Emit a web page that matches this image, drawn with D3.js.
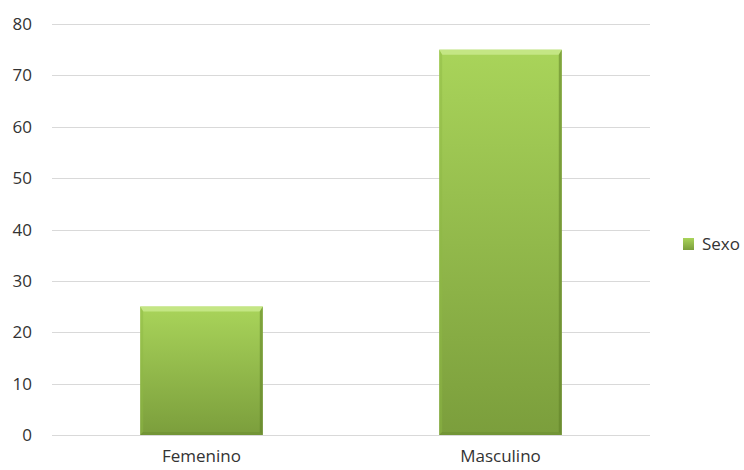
<!DOCTYPE html>
<html><head><meta charset="utf-8">
<script src="https://cdn.jsdelivr.net/npm/d3@7"></script>
<style>body{margin:0;background:#fff}svg{display:block}text{font-family:"Open Sans","Noto Sans",sans-serif;fill:#333}</style>
</head><body><svg id="c" width="744" height="470"></svg>
<script>
const categories = ["Femenino", "Masculino"];
const values = [25, 75];
const seriesName = "Sexo";
const yTicks = [0, 10, 20, 30, 40, 50, 60, 70, 80];

const svg = d3.select("#c");
const m = {l: 52, r: 94, t: 24, b: 35};
const W = 744, H = 470;
const x = d3.scaleBand().domain(categories).range([m.l, W - m.r]).paddingInner(0.59).paddingOuter(0.295);
const y = d3.scaleLinear().domain([0, 80]).range([H - m.b, m.t]);

const defs = svg.append("defs");
const g1 = defs.append("linearGradient").attr("id", "bg").attr("x1", 0).attr("y1", 0).attr("x2", 0).attr("y2", 1);
g1.append("stop").attr("offset", "0%").attr("stop-color", "#a9d45a");
g1.append("stop").attr("offset", "100%").attr("stop-color", "#7b9e3c");

// gridlines
svg.append("g").selectAll("line").data(yTicks).join("line")
  .attr("x1", m.l).attr("x2", W - m.r)
  .attr("y1", d => Math.round(y(d)) + 0.5).attr("y2", d => Math.round(y(d)) + 0.5)
  .attr("stroke", "#d9d9d9").attr("stroke-width", 1);

// y labels
svg.append("g").selectAll("text").data(yTicks).join("text")
  .attr("x", 32).attr("y", d => y(d)).attr("dy", "0.36em")
  .attr("text-anchor", "end").attr("font-size", 17).text(d => d);

// bars
const bw = x.bandwidth();
const bt = 5, bs = 3;
const bars = svg.append("g").selectAll("g").data(categories).join("g");
bars.append("rect")
  .attr("x", d => x(d)).attr("width", bw)
  .attr("y", (d, i) => y(values[i])).attr("height", (d, i) => y(0) - y(values[i]))
  .attr("fill", "url(#bg)");
// top bevel
bars.append("polygon").attr("points", (d, i) => {
  const x0 = x(d), x1 = x(d) + bw, t = y(values[i]);
  return [[x0, t], [x1, t], [x1 - bs, t + bt], [x0 + bs, t + bt]].join(" ");
}).attr("fill", "#c6e888").attr("opacity", 0.9);
// left bevel
bars.append("polygon").attr("points", (d, i) => {
  const x0 = x(d), t = y(values[i]), b = y(0);
  return [[x0, t], [x0 + bs, t + bt], [x0 + bs, b - bs], [x0, b]].join(" ");
}).attr("fill", "#8fb845").attr("opacity", 0.45);
// right bevel
bars.append("polygon").attr("points", (d, i) => {
  const x1 = x(d) + bw, t = y(values[i]), b = y(0);
  return [[x1, t], [x1 - bs, t + bt], [x1 - bs, b - bs], [x1, b]].join(" ");
}).attr("fill", "#5f7f27").attr("opacity", 0.55);
// bottom bevel
bars.append("polygon").attr("points", (d, i) => {
  const x0 = x(d), x1 = x(d) + bw, b = y(0);
  return [[x0, b], [x0 + bs, b - bs], [x1 - bs, b - bs], [x1, b]].join(" ");
}).attr("fill", "#6a8c2f").attr("opacity", 0.5);

// x labels
svg.append("g").selectAll("text").data(categories).join("text")
  .attr("x", d => x(d) + bw / 2).attr("y", 462)
  .attr("text-anchor", "middle").attr("font-size", 17).text(d => d);

// legend
const lg = svg.append("g").attr("transform", "translate(683,238)");
lg.append("rect").attr("width", 11).attr("height", 12).attr("fill", "url(#bg)");
lg.append("text").attr("x", 19).attr("y", 6).attr("dy", "0.36em").attr("font-size", 17).text(seriesName);
</script></body></html>
